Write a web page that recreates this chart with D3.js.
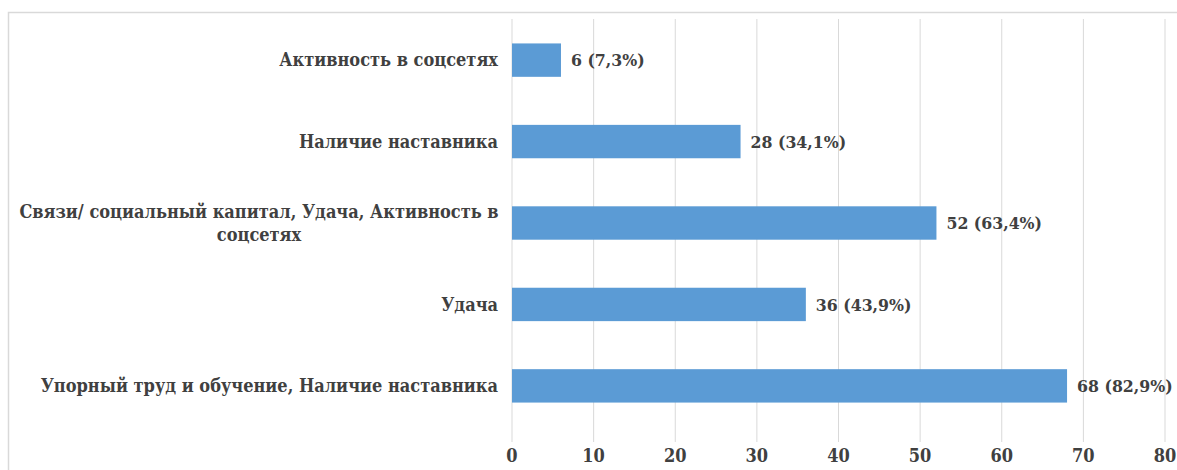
<!DOCTYPE html>
<html>
<head>
<meta charset="utf-8">
<script src="https://cdn.jsdelivr.net/npm/d3@7"></script>
<style>
  body { margin: 0; background: #fff; }
</style>
</head>
<body>
<svg id="drawing_region"></svg>
<script>
var width = 1177;
var height = 470;
var margin = {top: 19, right: 11, bottom: 43, left: 512};
var font = "'DejaVu Serif', serif";

// data
var categories = [
  'Активность в соцсетях',
  'Наличие наставника',
  'Связи/ социальный капитал, Удача, Активность в соцсетях',
  'Удача',
  'Упорный труд и обучение, Наличие наставника'
];
var values = [6, 28, 52, 36, 68];
var percents = ['7,3%', '34,1%', '63,4%', '43,9%', '82,9%'];
var xTicks = [0, 10, 20, 30, 40, 50, 60, 70, 80];

var svg = d3.select('#drawing_region')
      .attr('width', width)
      .attr('height', height);

// frame
svg.append('path')
      .attr('d', `M8.5,${height} V12.5 H${width}`)
      .attr('fill', 'none')
      .attr('stroke', '#d9d9d9')
      .attr('stroke-width', 1.5);

var chart = svg.append('g')
      .attr('transform', `translate(${margin.left}, ${margin.top})`);

const innerWidth = 1165 - margin.left;
const bandHeight = 408;
const gridBottom = 423;

const xscale = d3.scaleLinear()
      .domain([0, 80])
      .range([0, innerWidth]);

const yscale = d3.scaleBand()
      .domain(categories)
      .range([0, bandHeight])
      .paddingInner(0.59)
      .paddingOuter(0.3);

// gridlines
chart.selectAll('line.grid')
      .data(xTicks)
      .enter()
      .append('line')
      .attr('class', 'grid')
      .attr('x1', d => xscale(d))
      .attr('x2', d => xscale(d))
      .attr('y1', 0)
      .attr('y2', gridBottom)
      .attr('stroke', '#d9d9d9')
      .attr('stroke-width', 1);

const data = categories.map((c, i) => ({cat: c, v: values[i], p: percents[i]}));

chart.selectAll('rect.bar')
      .data(data)
      .enter()
      .append('rect')
      .attr('class', 'bar')
      .attr('x', 0)
      .attr('y', d => yscale(d.cat))
      .attr('width', d => xscale(d.v))
      .attr('height', yscale.bandwidth())
      .attr('fill', '#5b9bd5');

// value labels
chart.selectAll('text.val')
      .data(data)
      .enter()
      .append('text')
      .attr('class', 'val')
      .attr('x', d => xscale(d.v) + 10)
      .attr('y', d => yscale(d.cat) + yscale.bandwidth() / 2)
      .attr('dy', '0.35em')
      .attr('font-family', font)
      .attr('font-weight', 'bold')
      .attr('font-stretch', 'condensed')
      .attr('font-size', 17.5)
      .attr('fill', '#404040')
      .text(d => `${d.v} (${d.p})`);

// category labels (with wrapping of the long one)
const catLines = {
  'Связи/ социальный капитал, Удача, Активность в соцсетях': ['Связи/ социальный капитал, Удача, Активность в', 'соцсетях']
};

data.forEach(d => {
  const lines = catLines[d.cat] || [d.cat];
  const cy = yscale(d.cat) + yscale.bandwidth() / 2;
  const multi = lines.length > 1;
  const t = chart.append('text')
        .attr('y', cy - (lines.length - 1) * 11)
        .attr('font-family', font)
        .attr('font-weight', 'bold')
        .attr('font-stretch', 'condensed')
        .attr('font-size', 18)
        .attr('fill', '#404040')
        .attr('text-anchor', multi ? 'middle' : 'end');
  lines.forEach((l, i) => {
    t.append('tspan')
          .attr('x', multi ? -253 : -14)
          .attr('dy', i === 0 ? '0.35em' : '23')
          .text(l);
  });
});

// x axis labels
chart.selectAll('text.tick')
      .data(xTicks)
      .enter()
      .append('text')
      .attr('class', 'tick')
      .attr('x', d => xscale(d))
      .attr('y', 443)
      .attr('text-anchor', 'middle')
      .attr('font-family', font)
      .attr('font-weight', 'bold')
      .attr('font-stretch', 'condensed')
      .attr('font-size', 18)
      .attr('fill', '#404040')
      .text(d => d);
</script>
</body>
</html>
